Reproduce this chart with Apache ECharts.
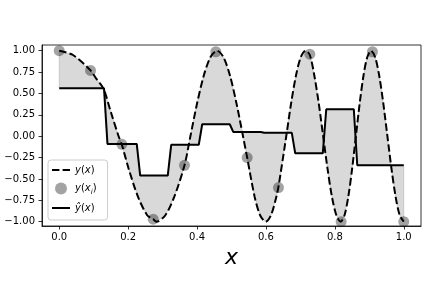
<!DOCTYPE html>
<html>
<head>
<meta charset="utf-8">
<script src="https://cdn.jsdelivr.net/npm/echarts@6/dist/echarts.min.js"></script>
<style>html,body{margin:0;padding:0;background:#fff}#c{width:432px;height:288px}</style>
</head>
<body>
<div id="c"></div>
<script>
// Dashed curve y(x)
const curveX = [0, 0.04, 0.0909, 0.108, 0.128, 0.15, 0.1723, 0.1818, 0.2017, 0.2285, 0.2552, 0.2727, 0.282, 0.308, 0.334, 0.3636, 0.3807, 0.400, 0.4194, 0.4388, 0.458, 0.4768, 0.4957, 0.5145, 0.5334, 0.5454, 0.5671, 0.583, 0.599, 0.6146, 0.6302, 0.6364, 0.6589, 0.6729, 0.687, 0.701, 0.715, 0.7273, 0.7405, 0.7533, 0.766, 0.7788, 0.7915, 0.8043, 0.817, 0.828, 0.839, 0.850, 0.861, 0.872, 0.883, 0.894, 0.905, 0.9169, 0.9288, 0.9406, 0.9525, 0.9644, 0.9763, 0.9881, 1.0];
const curveY = [1.0, 0.95, 0.77, 0.67, 0.56, 0.28, 0.0, -0.1, -0.383, -0.707, -0.924, -0.97, -1.0, -0.924, -0.707, -0.34, 0.0, 0.383, 0.707, 0.924, 1.0, 0.924, 0.707, 0.383, 0.0, -0.25, -0.707, -0.924, -1.0, -0.924, -0.707, -0.59, 0.0, 0.383, 0.707, 0.924, 1.0, 0.95, 0.707, 0.383, 0.0, -0.383, -0.707, -0.924, -1.0, -0.924, -0.707, -0.383, 0.0, 0.383, 0.707, 0.924, 1.0, 0.924, 0.707, 0.383, 0.0, -0.383, -0.707, -0.924, -1.0];
// Sample points y(x_i)
const sampleX = [0, 0.0909, 0.1818, 0.2727, 0.3636, 0.4545, 0.5455, 0.6364, 0.7273, 0.8182, 0.9091, 1.0];
const sampleY = [1.0, 0.77, -0.095, -0.97, -0.34, 0.988, -0.25, -0.6, 0.96, -1.0, 0.988, -1.0];
// Piecewise-constant approximation ŷ(x)
const stepX = [0, 0.13, 0.14, 0.225, 0.235, 0.315, 0.325, 0.405, 0.415, 0.495, 0.505, 0.585, 0.595, 0.675, 0.685, 0.765, 0.775, 0.855, 0.865, 1.0];
const stepY = [0.56, 0.56, -0.09, -0.09, -0.46, -0.46, -0.1, -0.1, 0.14, 0.14, 0.05, 0.05, 0.04, 0.04, -0.2, -0.2, 0.315, 0.315, -0.34, -0.34];
// Tick labels
const xTicks = [0, 0.2, 0.4, 0.6, 0.8, 1.0];
const yTicks = [-1, -0.75, -0.5, -0.25, 0, 0.25, 0.5, 0.75, 1];

const curveData = curveX.map((x, i) => [x, curveY[i]]);
const sampleData = sampleX.map((x, i) => [x, sampleY[i]]);
const stepData = stepX.map((x, i) => [x, stepY[i]]);

const FONT = 'DejaVu Sans';
const legendText = {
  'y(x)': '{it|y}{n|(}{it|x}{n|)}',
  'y(xi)': '{it|y}{n|(}{it|x}{sub|i}{n|)}',
  'yhat(x)': '{it|ŷ}{n|(}{it|x}{n|)}'
};

const chart = echarts.init(document.getElementById('c'), null, {renderer: 'canvas'});
chart.setOption({
  animation: false,
  backgroundColor: '#fff',
  grid: {left: 42, right: 11, top: 45, bottom: 62, show: true, borderColor: '#000', borderWidth: 0.8, backgroundColor: 'transparent'},
  xAxis: {
    type: 'value', min: -0.05, max: 1.05,
    name: 'x', nameLocation: 'middle', nameGap: 20,
    nameTextStyle: {fontFamily: FONT, fontStyle: 'italic', fontSize: 22, color: '#000'},
    axisLine: {show: true, onZero: false, lineStyle: {color: '#000', width: 0.8}},
    axisTick: {show: true, length: 3.5, lineStyle: {color: '#000', width: 0.8}, customValues: xTicks},
    axisLabel: {customValues: xTicks, fontFamily: FONT, fontSize: 10, color: '#000', margin: 6,
      formatter: v => v.toFixed(1)},
    splitLine: {show: false}
  },
  yAxis: {
    type: 'value', min: -1.05, max: 1.067,
    axisLine: {show: true, onZero: false, lineStyle: {color: '#000', width: 0.8}},
    axisTick: {show: true, length: 3.5, lineStyle: {color: '#000', width: 0.8}, customValues: yTicks},
    axisLabel: {customValues: yTicks, fontFamily: FONT, fontSize: 10, color: '#000', margin: 7,
      formatter: v => v.toFixed(2).replace('-', '\u2212')},
    splitLine: {show: false}
  },
  legend: {
    orient: 'vertical', left: 48, top: 160,
    data: [
      {name: 'y(x)', itemStyle: {opacity: 0}, lineStyle: {color: '#000', width: 2, type: [7.4, 3.2]}},
      {name: 'y(xi)', itemStyle: {color: 'rgba(0,0,0,0.45)'}},
      {name: 'yhat(x)', itemStyle: {opacity: 0}, lineStyle: {color: '#000', width: 2, type: 'solid'}}
    ],
    itemWidth: 18, itemHeight: 12, itemGap: 7.5, itemTextGap: 12,
    padding: [5, 11, 7, 3],
    backgroundColor: 'rgba(255,255,255,0.8)', borderColor: '#cccccc', borderWidth: 1, borderRadius: 3,
    formatter: name => legendText[name],
    textStyle: {
      color: '#000', fontFamily: FONT, fontSize: 10,
      rich: {
        it: {fontFamily: FONT, fontStyle: 'italic', fontSize: 10, color: '#000', lineHeight: 14},
        n: {fontFamily: FONT, fontSize: 10, color: '#000', lineHeight: 14},
        sub: {fontFamily: FONT, fontStyle: 'italic', fontSize: 7, color: '#000', lineHeight: 8, verticalAlign: 'bottom'}
      }
    }
  },
  series: [
    {
      name: 'fill', type: 'custom', silent: true, z: 1,
      data: [[0, 0]],
      renderItem: function (params, api) {
        const pts = [];
        curveData.forEach(p => pts.push(api.coord(p)));
        for (let i = stepData.length - 1; i >= 0; i--) pts.push(api.coord(stepData[i]));
        return {type: 'polygon', shape: {points: pts},
          style: {fill: '#808080', stroke: '#808080', lineWidth: 1, opacity: 0.3}};
      }
    },
    {
      name: 'y(x)', type: 'line', data: curveData, smooth: 0.3, showSymbol: false, symbol: 'none', z: 3,
      lineStyle: {color: '#000', width: 2, type: [7.4, 3.2]},
      itemStyle: {color: '#000'}
    },
    {
      name: 'yhat(x)', type: 'line', data: stepData, showSymbol: false, symbol: 'none', z: 3,
      lineStyle: {color: '#000', width: 2},
      itemStyle: {color: '#000'}
    },
    {
      name: 'y(xi)', type: 'scatter', data: sampleData, symbol: 'circle', symbolSize: 11, z: 4,
      itemStyle: {color: 'rgba(0,0,0,0.45)'}
    }
  ]
});
</script>
</body>
</html>
